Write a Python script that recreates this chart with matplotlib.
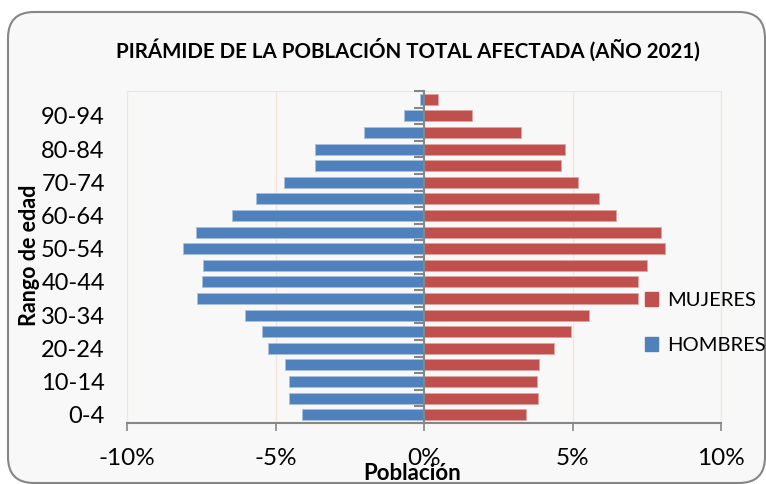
import matplotlib
matplotlib.use("Agg")
import matplotlib.pyplot as plt
from matplotlib.patches import FancyBboxPatch, Patch
from matplotlib.ticker import FuncFormatter, FixedLocator
from matplotlib.transforms import IdentityTransform

plt.rcParams['font.family'] = ['Lato', 'DejaVu Sans']

# datos: porcentaje de poblacion por rango de edad
rangos = ['0-4', '5-9', '10-14', '15-19', '20-24', '25-29', '30-34', '35-39',
          '40-44', '45-49', '50-54', '55-59', '60-64', '65-69', '70-74',
          '75-79', '80-84', '85-89', '90-94', '95+']
hombres = [4.12, 4.53, 4.53, 4.67, 5.24, 5.45, 6.04, 7.63, 7.47, 7.45,
           8.11, 7.66, 6.45, 5.64, 4.70, 3.67, 3.66, 2.03, 0.67, 0.13]
mujeres = [3.43, 3.85, 3.82, 3.88, 4.37, 4.94, 5.54, 7.19, 7.21, 7.51,
           8.12, 7.98, 6.46, 5.89, 5.17, 4.61, 4.76, 3.25, 1.63, 0.47]
xticks = [-10, -5, 0, 5, 10]

azul = '#4F81BD'
rojo = '#C0504D'
gris = '#868686'
borde_claro = '#F7E4D8'

fig = plt.figure(figsize=(7.66, 4.84), dpi=100)
fig.patch.set_facecolor('white')

# marco redondeado del grafico
marco = FancyBboxPatch((8, 1), 757, 471, boxstyle="round,pad=0,rounding_size=26",
                       transform=IdentityTransform(), facecolor='#F8F8F8',
                       edgecolor=gris, linewidth=1.5, zorder=-10)
fig.patches.append(marco)

rect = [127 / 766, 1 - 423 / 484, (721 - 127) / 766, (423 - 91) / 484]
ax = fig.add_axes(rect)
ax.set_facecolor('none')

pos = list(range(len(rangos)))
ax.barh(pos, [-h for h in hombres], height=0.66, color=azul,
        edgecolor='#A9C0DE', linewidth=0.6, zorder=3)
ax.barh(pos, mujeres, height=0.66, color=rojo,
        edgecolor='#DFA5A3', linewidth=0.6, zorder=3)

ax.set_xlim(-10, 10)
ax.set_ylim(-0.5, len(rangos) - 0.5)
ax.set_xticks(xticks)
ax.xaxis.set_major_formatter(FuncFormatter(lambda v, p: '%d%%' % v))
ax.tick_params(axis='x', length=6, width=1.2, color=gris, pad=12, labelsize=17.5)

ax.yaxis.set_major_locator(FixedLocator(pos[::2]))
ax.set_yticklabels(rangos[::2])
ax.tick_params(axis='y', length=0, pad=16, labelsize=17)

ax.grid(axis='x', color=borde_claro, linewidth=1, zorder=0)
for s in ['top', 'right', 'left']:
    ax.spines[s].set_color(borde_claro)
ax.spines['bottom'].set_color(gris)
ax.spines['bottom'].set_linewidth(1.5)

# eje vertical en 0 con marcas entre categorias (ejes superpuestos)
ax0 = fig.add_axes(rect)
ax0.patch.set_visible(False)
ax0.set_xlim(ax.get_xlim())
ax0.set_ylim(ax.get_ylim())
for s in ['top', 'right', 'bottom']:
    ax0.spines[s].set_visible(False)
ax0.spines['left'].set_position(('data', 0))
ax0.spines['left'].set_color(gris)
ax0.spines['left'].set_linewidth(1.5)
ax0.set_xticks([])
ax0.set_yticks([p - 0.5 for p in pos] + [len(rangos) - 0.5])
ax0.set_yticklabels([])
ax0.tick_params(axis='y', length=7, width=1.5, color=gris, direction='out')

fig.text(408 / 766, 1 - 50 / 484, 'PIRÁMIDE DE LA POBLACIÓN TOTAL AFECTADA (AÑO 2021)',
         ha='center', va='center', fontsize=14.8, fontweight='bold')
fig.text(29 / 766, 1 - 255 / 484, 'Rango de edad', rotation=90, ha='center',
         va='center', fontsize=15.5, fontweight='bold')
fig.text(412 / 766, 1 - 473 / 484, 'Población', ha='center', va='center',
         fontsize=16, fontweight='bold')

handles = [Patch(color=rojo), Patch(color=azul)]
fig.legend(handles, ['MUJERES', 'HOMBRES'], loc='center left',
           bbox_to_anchor=(627 / 766, 1 - 323 / 484), frameon=False,
           fontsize=14.5, handlelength=0.65, handleheight=0.65,
           handletextpad=0.45, labelspacing=1.4)

fig.savefig('out.png', dpi=100)
